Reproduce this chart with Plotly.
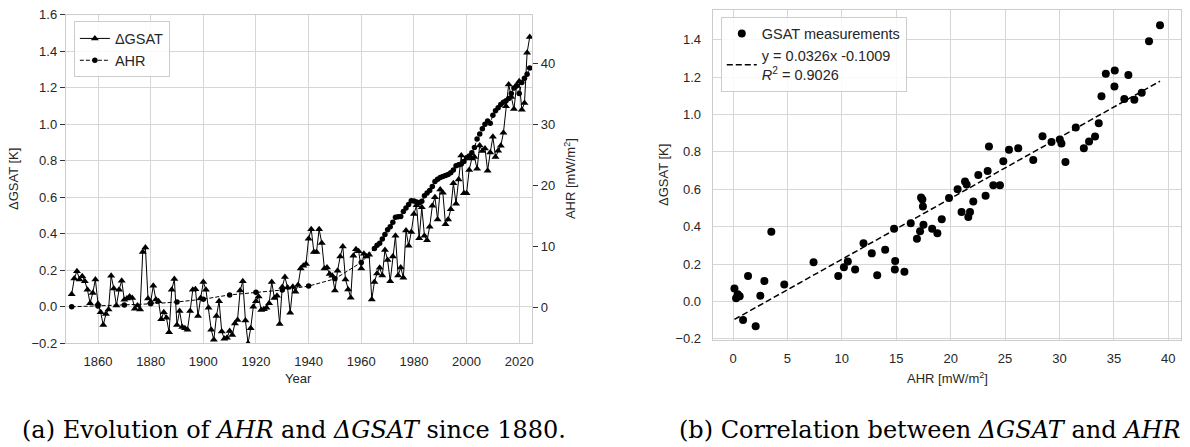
import plotly.graph_objects as go

# ---------------- data ----------------
years = list(range(1850, 2025))
gsat = [
    0.069, 0.155, 0.195, 0.150, 0.168, 0.140, 0.093, 0.020, 0.075, 0.150,   # 1850s
    0.017, -0.030, -0.100, -0.040, -0.015, 0.170, 0.100, 0.007, 0.093, 0.143,  # 1860s
    0.038, 0.046, 0.057, 0.048, -0.010, 0.007, -0.015, 0.300, 0.325, 0.045,  # 1870s
    0.027, 0.115, 0.040, 0.030, -0.068, -0.030, -0.060, -0.140, 0.093, 0.152,  # 1880s
    -0.100, -0.023, -0.110, -0.118, -0.125, -0.023, 0.093, 0.096, -0.050, 0.048,  # 1890s
    0.136, 0.093, -0.005, -0.125, -0.180, -0.050, 0.030, -0.135, -0.175, -0.170,  # 1900s
    -0.133, -0.155, -0.092, -0.072, 0.090, 0.140, -0.075, -0.200, -0.117, 0.000,  # 1910s
    0.030, 0.057, -0.018, -0.014, -0.005, 0.020, 0.136, 0.048, 0.060, -0.094,  # 1920s
    0.109, 0.163, 0.106, -0.032, 0.110, 0.083, 0.119, 0.210, 0.225, 0.234,  # 1930s
    0.373, 0.425, 0.300, 0.300, 0.425, 0.350, 0.210, 0.215, 0.180, 0.170,  # 1940s
    0.090, 0.198, 0.275, 0.330, 0.150, 0.095, 0.050, 0.280, 0.315, 0.305,  # 1950s
    0.210, 0.290, 0.275, 0.285, 0.040, 0.136, 0.183, 0.214, 0.171, 0.311,  # 1960s
    0.257, 0.140, 0.276, 0.389, 0.171, 0.216, 0.159, 0.418, 0.335, 0.410,  # 1970s
    0.508, 0.556, 0.375, 0.545, 0.389, 0.364, 0.439, 0.553, 0.600, 0.478,  # 1980s
    0.642, 0.625, 0.452, 0.478, 0.534, 0.677, 0.565, 0.698, 0.829, 0.622,  # 1990s
    0.622, 0.750, 0.812, 0.820, 0.756, 0.884, 0.853, 0.867, 0.746, 0.845,  # 2000s
    0.931, 0.820, 0.855, 0.882, 0.953, 1.098, 1.218, 1.150, 1.083, 1.211,  # 2010s
    1.235, 1.079, 1.116, 1.392, 1.478,                                     # 2020s
]

ahr_years = [1850, 1860, 1870, 1880, 1890, 1900, 1910, 1920, 1930, 1940, 1950, 1960] + list(range(1965, 2025))
ahr = [
    0.13, 0.28, 0.43, 0.61, 0.92, 1.38, 2.08, 2.51, 2.88, 3.52, 4.71, 7.40,
    9.67, 10.19, 10.55, 11.22, 11.99,                     # 1965-1969
    12.75, 13.25, 13.98, 14.80, 14.87, 14.90, 15.75, 16.33, 16.90, 17.50,  # 1970s
    17.45, 17.28, 17.19, 17.40, 18.30, 18.78, 19.18, 19.85, 20.64, 21.00,  # 1980s
    21.32, 21.47, 21.62, 21.78, 22.08, 22.54, 23.21, 23.40, 23.52, 23.92,  # 1990s
    24.53, 24.84, 25.36, 26.21, 27.59, 28.44, 29.27, 30.03, 30.55, 30.18,  # 2000s
    31.50, 32.24, 32.72, 33.27, 33.61, 33.86, 34.26, 35.05, 35.96, 36.33,  # 2010s
    35.08, 36.88, 37.56, 38.23, 39.24,                                     # 2020s
]

fit_slope = 0.0326
fit_intercept = -0.1009
fit_r2 = 0.9026

year_ticks = [1860, 1880, 1900, 1920, 1940, 1960, 1980, 2000, 2020]
gsat_ticks = [-0.2, 0.0, 0.2, 0.4, 0.6, 0.8, 1.0, 1.2, 1.4, 1.6]
ahr_ticks = [0, 10, 20, 30, 40]
ahr_x_ticks = [0, 5, 10, 15, 20, 25, 30, 35, 40]
gsat_ticks_b = [-0.2, 0.0, 0.2, 0.4, 0.6, 0.8, 1.0, 1.2, 1.4]

# GSAT at years where AHR is available (for the correlation panel)
gsat_by_year = dict(zip(years, gsat))
gsat_at_ahr = [gsat_by_year[y] for y in ahr_years]
fit_x = [min(ahr), max(ahr)]
fit_y = [fit_slope * v + fit_intercept for v in fit_x]

# ---------------- figure ----------------
W, H = 1190, 447
def px(x):
    return x / W
def py(y):
    return (H - y) / H

FONT = "Liberation Sans, Arial, sans-serif"
TXT = "#262626"
GRID = "#d6d6d6"
SPINE = "#cccccc"

fig = go.Figure()
fig.add_trace(go.Scatter(
    x=years, y=gsat, mode="lines+markers", name="ΔGSAT",
    line=dict(color="black", width=1),
    marker=dict(symbol="triangle-up", size=7, color="black"),
    xaxis="x", yaxis="y", legend="legend"))
fig.add_trace(go.Scatter(
    x=ahr_years, y=ahr, mode="lines+markers", name="AHR",
    line=dict(color="black", width=1, dash="4px,2px"),
    marker=dict(symbol="circle", size=5.5, color="black"),
    xaxis="x", yaxis="y2", legend="legend"))

fig.add_trace(go.Scatter(
    x=ahr, y=gsat_at_ahr, mode="markers", name="GSAT measurements",
    marker=dict(symbol="circle", size=8, color="black"),
    xaxis="x2", yaxis="y3", legend="legend2"))
fig.add_trace(go.Scatter(
    x=fit_x, y=fit_y, mode="lines",
    name=f"y = {fit_slope}x {fit_intercept}<br><i>R</i><sup>2</sup> = {fit_r2}",
    line=dict(color="black", width=1.5, dash="6px,3px"),
    xaxis="x2", yaxis="y3", legend="legend2"))

common_axis = dict(
    showgrid=True, gridcolor=GRID, gridwidth=1,
    showline=True, linecolor=SPINE, linewidth=1.2, mirror=True,
    zeroline=False,
    tickfont=dict(family=FONT, size=13, color=TXT),
)

fig.update_layout(
    width=W, height=H, autosize=False,
    margin=dict(l=0, r=0, t=0, b=0),
    paper_bgcolor="white", plot_bgcolor="white",
    showlegend=True,
    xaxis=dict(**common_axis, domain=[px(66), px(533)], range=[1847.8, 2024.9],
               tickvals=year_ticks, ticks="outside", ticklen=6,
               tickcolor="rgba(0,0,0,0)", anchor="y"),
    yaxis=dict(**common_axis, domain=[py(348), py(8)], range=[-0.2, 1.6],
               tickvals=gsat_ticks, tickformat=".1f", ticks="outside", ticklen=5,
               tickcolor="#333333", anchor="x"),
    yaxis2=dict(showgrid=False, zeroline=False, showline=False,
                overlaying="y", side="right", anchor="x",
                range=[-5.85, 47.96], tickvals=ahr_ticks,
                ticks="outside", ticklen=5, tickcolor="#333333",
                tickfont=dict(family=FONT, size=13, color=TXT)),
    xaxis2=dict(**common_axis, domain=[px(714), px(1183)], range=[-1.86, 41.17],
                tickvals=ahr_x_ticks, ticks="outside", ticklen=6,
                tickcolor="rgba(0,0,0,0)", anchor="y3"),
    yaxis3=dict(**common_axis, domain=[py(345), py(3)], range=[-0.209, 1.56],
                tickvals=gsat_ticks_b, tickformat=".1f", ticks="outside", ticklen=8,
                tickcolor="rgba(0,0,0,0)", anchor="x2"),
    legend=dict(x=px(74), y=py(15), xanchor="left", yanchor="top",
                bgcolor="rgba(255,255,255,0.85)", bordercolor=SPINE, borderwidth=1,
                font=dict(family=FONT, size=14.5, color=TXT), tracegroupgap=0),
    legend2=dict(x=px(722), y=py(10), xanchor="left", yanchor="top",
                 bgcolor="rgba(255,255,255,0.85)", bordercolor=SPINE, borderwidth=1,
                 font=dict(family=FONT, size=14.5, color=TXT), tracegroupgap=0),
)

ann_font = dict(family=FONT, size=13, color=TXT)
cap_font = dict(family="DejaVu Serif, Liberation Serif, serif", size=24, color="black")
annotations = [
    dict(text="ΔGSAT [K]", x=px(13), y=py(178), textangle=-90, font=ann_font),
    dict(text="AHR [mW/m<sup>2</sup>]", x=px(571), y=py(178), textangle=-90, font=ann_font),
    dict(text="Year", x=px(299), y=py(384), font=ann_font),
    dict(text="ΔGSAT [K]", x=px(664), y=py(174), textangle=-90, font=ann_font),
    dict(text="AHR [mW/m<sup>2</sup>]", x=px(949), y=py(384), font=ann_font),
    dict(text="(a) Evolution of <i>AHR</i> and <i>ΔGSAT</i> since 1880.",
         x=px(294), y=py(438), font=cap_font),
    dict(text="(b) Correlation between <i>ΔGSAT</i> and <i>AHR</i>",
         x=px(931), y=py(438), font=cap_font),
]
for a in annotations:
    a.update(xref="paper", yref="paper", showarrow=False, xanchor="center", yanchor="middle")
fig.update_layout(annotations=annotations)

fig.write_html("out.html")
